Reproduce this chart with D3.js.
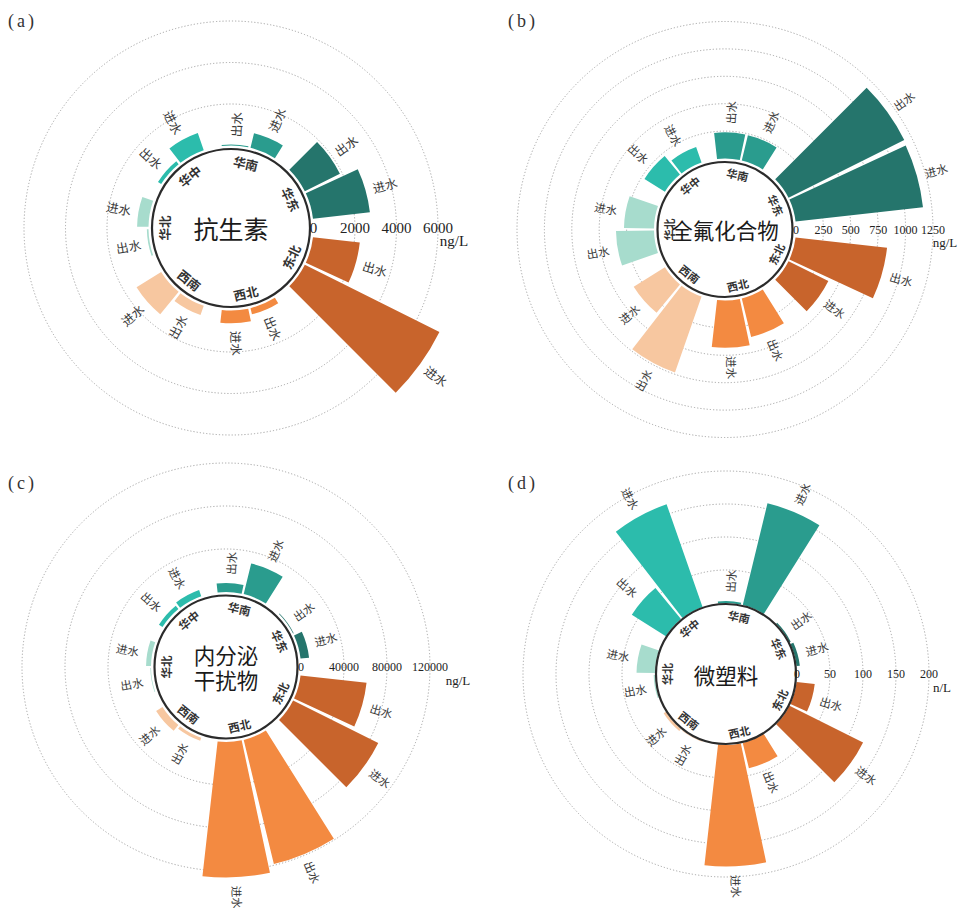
<!DOCTYPE html>
<html>
<head>
<meta charset="utf-8">
<script src="https://cdn.jsdelivr.net/npm/d3@7"></script>
<style>
  body { margin: 0; background: #fff; }
</style>
</head>
<body>
<svg id="chart"></svg>
<script>
// regions in clockwise order, starting just below the east (value) axis
var regions = ['东北', '西北', '西南', '华北', '华中', '华南', '华东'];
var waterTypes = ['出水', '进水'];

var titles = [['抗生素'], ['全氟化合物'], ['内分泌', '干扰物'], ['微塑料']];
var panelLetters = ['a', 'b', 'c', 'd'];
var units = ['ng/L', 'ng/L', 'ng/L', 'n/L'];

// (a) 抗生素, ng/L
var antibioticOut = [2270, 300, 470, 80, 180, 50, 1890];
var antibioticIn  = [7250, 620, 1400, 550, 870, 720, 2760];
var antibioticTicks = [0, 2000, 4000, 6000];

// (b) 全氟化合物, ng/L
var pfasOut = [840, 362, 734, 347, 220, 239, 1180];
var pfasIn  = [406, 431, 336, 274, 150, 237, 1170];
var pfasTicks = [0, 250, 500, 750, 1000, 1250];

// (c) 内分泌干扰物, ng/L
var edcOut = [61800, 118800, 3000, 600, 3900, 8300, 600];
var edcIn  = [88500, 126000, 7000, 4600, 6000, 29400, 8000];
var edcTicks = [0, 40000, 80000, 120000];

// (d) 微塑料, n/L
var mpOut = [27.7, 39.4, 1, 2, 61, 3, 2];
var mpIn  = [124.5, 184, 4, 28, 165, 158.5, 5];
var mpTicks = [0, 50, 100, 150, 200];

var width = 959, height = 908;

var panels = [
  {out: antibioticOut, inn: antibioticIn, ticks: antibioticTicks, cx: 231, cy: 228,
   hole: 79, r0: 82.5, r1: 207, titleSize: 25, tickSize: 15, unitSize: 15, unitDx: 16, barFont: 12.5, regFont: 12.5, lx: 8, ly: 27},
  {out: pfasOut, inn: pfasIn, ticks: pfasTicks, cx: 725, cy: 229.5,
   hole: 67.5, r0: 71, r1: 208, titleSize: 21.5, tickSize: 12, unitSize: 13, unitDx: 12, barFont: 11.5, regFont: 11, lx: 508, ly: 27},
  {out: edcOut, inn: edcIn, ticks: edcTicks, cx: 226, cy: 667,
   hole: 71.5, r0: 75, r1: 204, titleSize: 21.5, tickSize: 12, unitSize: 13, unitDx: 28, barFont: 11.5, regFont: 11.5, lx: 8, ly: 489},
  {out: mpOut, inn: mpIn, ticks: mpTicks, cx: 726, cy: 674,
   hole: 70, r0: 71, r1: 203, titleSize: 21.5, tickSize: 12, unitSize: 13, unitDx: 13, barFont: 11.5, regFont: 11, lx: 508, ly: 489}
];

var cjk = '"Noto Sans CJK SC", sans-serif';
var serif = '"Liberation Serif", "Times New Roman", serif';

var color = d3.scaleOrdinal()
    .domain(regions)
    .range(['#c8642c', '#f38a41', '#f7c7a0', '#a7dccd', '#2cbcac', '#2a9c8e', '#25756c']);

// each region gets an equal slice, gaps between regions (one of them sits on the east axis)
var regionAngle = d3.scaleBand()
    .domain(regions)
    .range([Math.PI / 2, Math.PI / 2 + 2 * Math.PI])
    .paddingInner(0.25)
    .paddingOuter(0.125);

var typeAngle = d3.scaleBand()
    .domain(waterTypes)
    .range([0, regionAngle.bandwidth()])
    .paddingInner(0.08);

var svg = d3.select('#chart')
    .attr('width', width)
    .attr('height', height)
    .style('background', '#fff');

function toDeg(a) {
    var d = a * 180 / Math.PI % 360;
    return d < 0 ? d + 360 : d;
}

panels.forEach(function(p, k) {
    var g = svg.append('g')
        .attr('transform', 'translate(' + p.cx + ',' + p.cy + ')');

    var r = d3.scaleLinear()
        .domain([0, d3.max(p.ticks)])
        .range([p.r0, p.r1]);

    // dotted rings
    g.selectAll('circle.ring')
        .data(p.ticks.filter(function(t) { return t > 0; }))
        .enter()
        .append('circle')
        .attr('class', 'ring')
        .attr('r', function(d) { return r(d); })
        .attr('fill', 'none')
        .attr('stroke', '#9a9a9a')
        .attr('stroke-width', 0.9)
        .attr('stroke-dasharray', '1.2,2');

    var bars = [];
    regions.forEach(function(reg, i) {
        bars.push({region: reg, type: '出水', value: p.out[i]});
        bars.push({region: reg, type: '进水', value: p.inn[i]});
    });

    function startA(d) { return regionAngle(d.region) + typeAngle(d.type); }
    function midA(d) { return startA(d) + typeAngle.bandwidth() / 2; }

    var arc = d3.arc()
        .innerRadius(p.r0)
        .outerRadius(function(d) { return r(d.value); })
        .startAngle(startA)
        .endAngle(function(d) { return startA(d) + typeAngle.bandwidth(); });

    g.selectAll('path.bar')
        .data(bars)
        .enter()
        .append('path')
        .attr('class', 'bar')
        .attr('d', arc)
        .attr('fill', function(d) { return color(d.region); });

    // centre disc
    g.append('circle')
        .attr('r', p.hole)
        .attr('fill', '#fff')
        .attr('stroke', '#2b2b2b')
        .attr('stroke-width', 2.2);

    // 进水 / 出水 labels, radial
    g.selectAll('text.bar-label')
        .data(bars)
        .enter()
        .append('text')
        .attr('class', 'bar-label')
        .attr('transform', function(d) {
            var deg = toDeg(midA(d));
            var t = 'rotate(' + (deg - 90) + ') translate(' + (r(d.value) + 20) + ',0)';
            if (deg > 180) t += ' rotate(180)';
            return t;
        })
        .attr('text-anchor', 'middle')
        .attr('dominant-baseline', 'central')
        .style('font-family', cjk)
        .style('font-size', p.barFont + 'px')
        .attr('fill', '#3a3a3a')
        .text(function(d) { return d.type; });

    // region names inside the circle
    g.selectAll('text.region')
        .data(regions)
        .enter()
        .append('text')
        .attr('class', 'region')
        .attr('transform', function(d) {
            var deg = toDeg(regionAngle(d) + regionAngle.bandwidth() / 2);
            var t = 'rotate(' + deg + ') translate(0,' + (-(p.hole - p.regFont)) + ')';
            if (deg > 90.5 && deg < 269.5) t += ' rotate(180)';
            return t;
        })
        .attr('text-anchor', 'middle')
        .attr('dominant-baseline', 'central')
        .style('font-family', cjk)
        .style('font-weight', 'bold')
        .style('font-size', p.regFont + 'px')
        .attr('fill', '#333')
        .text(function(d) { return d; });

    // value axis along the east
    g.selectAll('text.tick')
        .data(p.ticks)
        .enter()
        .append('text')
        .attr('class', 'tick')
        .attr('x', function(d) { return r(d); })
        .attr('y', 0)
        .attr('text-anchor', 'middle')
        .attr('dominant-baseline', 'central')
        .style('font-family', serif)
        .style('font-size', p.tickSize + 'px')
        .attr('fill', '#222')
        .text(function(d) { return d; });

    g.append('text')
        .attr('x', p.r1 + p.unitDx)
        .attr('y', 13)
        .attr('text-anchor', 'middle')
        .attr('dominant-baseline', 'central')
        .style('font-family', serif)
        .style('font-size', p.unitSize + 'px')
        .attr('fill', '#222')
        .text(units[k]);

    // title in the centre
    var lines = titles[k];
    g.selectAll('text.title')
        .data(lines)
        .enter()
        .append('text')
        .attr('class', 'title')
        .attr('x', 0)
        .attr('y', function(d, i) { return (i - (lines.length - 1) / 2) * p.titleSize * 1.2; })
        .attr('text-anchor', 'middle')
        .attr('dominant-baseline', 'central')
        .style('font-family', cjk)
        .style('font-size', p.titleSize + 'px')
        .attr('fill', '#1a1a1a')
        .text(function(d) { return d; });

    svg.append('text')
        .attr('x', p.lx)
        .attr('y', p.ly)
        .style('font-family', serif)
        .style('font-size', '18px')
        .style('letter-spacing', '3px')
        .attr('fill', '#333')
        .text('(' + panelLetters[k] + ')');
});
</script>
</body>
</html>
